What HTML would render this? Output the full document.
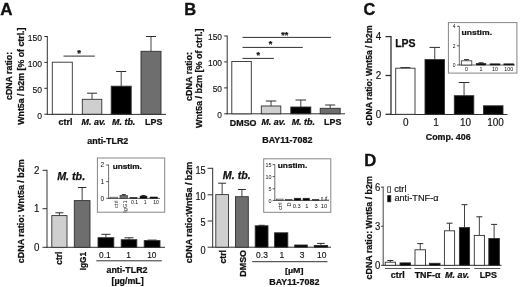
<!DOCTYPE html>
<html lang="en"><head><meta charset="utf-8"><title>Figure</title>
<style>
html,body{margin:0;padding:0;background:#fff;}
body{width:520px;height:287px;overflow:hidden;}
svg{display:block;filter:blur(0.3px);font-family:"Liberation Sans",Arial,Helvetica,sans-serif;}
</style></head><body>
<svg width="520" height="287" viewBox="0 0 520 287">
<rect x="0" y="0" width="520" height="287" fill="#fff"/>
<text text-anchor="start" style="font-size:17px;font-weight:bold;" fill="#111" transform="translate(0.3 15.3)" stroke="#111" stroke-width="0.35">A</text>
<text text-anchor="start" style="font-size:8.8px;font-weight:bold;" fill="#111" transform="translate(11.5 100) rotate(-90) scale(1.0 1.1)" stroke="#111" stroke-width="0.25">cDNA ratio:</text>
<text text-anchor="start" style="font-size:8.8px;font-weight:bold;" fill="#111" transform="translate(23.9 124.8) rotate(-90) scale(1.0 1.1)" stroke="#111" stroke-width="0.25">Wnt5a / b2m [% of ctrl.]</text>
<line x1="47.3" y1="36.0" x2="47.3" y2="114.7" stroke="#303030" stroke-width="1.0"/>
<line x1="44.3" y1="36.5" x2="47.3" y2="36.5" stroke="#303030" stroke-width="1.0"/>
<text text-anchor="end" style="font-size:9.5px;" fill="#111" transform="translate(42.099999999999994 41.02) scale(0.9 1.0)" stroke="#111" stroke-width="0.15">150</text>
<line x1="44.3" y1="62.4" x2="47.3" y2="62.4" stroke="#303030" stroke-width="1.0"/>
<text text-anchor="end" style="font-size:9.5px;" fill="#111" transform="translate(42.099999999999994 66.91999999999999) scale(0.9 1.0)" stroke="#111" stroke-width="0.15">100</text>
<line x1="44.3" y1="88.3" x2="47.3" y2="88.3" stroke="#303030" stroke-width="1.0"/>
<text text-anchor="end" style="font-size:9.5px;" fill="#111" transform="translate(42.099999999999994 92.82) scale(0.9 1.0)" stroke="#111" stroke-width="0.15">50</text>
<line x1="44.3" y1="114.2" x2="47.3" y2="114.2" stroke="#303030" stroke-width="1.0"/>
<text text-anchor="end" style="font-size:9.5px;" fill="#111" transform="translate(42.099999999999994 118.72) scale(0.9 1.0)" stroke="#111" stroke-width="0.15">0</text>
<line x1="46.8" y1="114.4" x2="166" y2="114.4" stroke="#303030" stroke-width="1.0"/>
<rect x="52.3" y="62.2" width="20.0" height="52.0" fill="#ffffff" stroke="#303030" stroke-width="0.9"/>
<line x1="92.05" y1="93.2" x2="92.05" y2="99.3" stroke="#2c2c2c" stroke-width="0.9"/>
<line x1="87.05" y1="93.2" x2="97.05" y2="93.2" stroke="#2c2c2c" stroke-width="1.0"/>
<rect x="82.3" y="99.3" width="19.5" height="14.9" fill="#cfcfcf" stroke="#303030" stroke-width="0.9"/>
<line x1="121.19999999999999" y1="71.5" x2="121.19999999999999" y2="86.2" stroke="#2c2c2c" stroke-width="0.9"/>
<line x1="116.19999999999999" y1="71.5" x2="126.19999999999999" y2="71.5" stroke="#2c2c2c" stroke-width="1.0"/>
<rect x="111.2" y="86.2" width="20.0" height="28.0" fill="#000000" stroke="#303030" stroke-width="0.9"/>
<line x1="151.0" y1="36.5" x2="151.0" y2="51.3" stroke="#2c2c2c" stroke-width="0.9"/>
<line x1="146.0" y1="36.5" x2="156.0" y2="36.5" stroke="#2c2c2c" stroke-width="1.0"/>
<rect x="141" y="51.3" width="20" height="62.9" fill="#6e6e6e" stroke="#303030" stroke-width="0.9"/>
<line x1="63.5" y1="56.1" x2="94.8" y2="56.1" stroke="#303030" stroke-width="1.0"/>
<text text-anchor="middle" style="font-size:9.5px;font-weight:bold;" fill="#111" transform="translate(79.2 55.8)" stroke="#111" stroke-width="0.25">*</text>
<text text-anchor="middle" style="font-size:8.9px;font-weight:bold;" fill="#111" transform="translate(65.5 125.2) scale(1.0 0.92)" stroke="#111" stroke-width="0.25">ctrl</text>
<text text-anchor="middle" style="font-size:8.9px;font-weight:bold;font-style:italic;" fill="#111" transform="translate(93.7 125.2) scale(1.0 0.92)" stroke="#111" stroke-width="0.25">M. av.</text>
<text text-anchor="middle" style="font-size:8.9px;font-weight:bold;font-style:italic;" fill="#111" transform="translate(123.7 125.2) scale(1.0 0.92)" stroke="#111" stroke-width="0.25">M. tb.</text>
<text text-anchor="middle" style="font-size:8.9px;font-weight:bold;" fill="#111" transform="translate(153.7 125.2) scale(1.0 0.92)" stroke="#111" stroke-width="0.25">LPS</text>
<text text-anchor="middle" style="font-size:8.9px;font-weight:bold;" fill="#111" transform="translate(107.8 143.5) scale(1.0 0.92)" stroke="#111" stroke-width="0.25">anti-TLR2</text>
<text text-anchor="start" style="font-size:16.5px;font-weight:bold;" fill="#111" transform="translate(184.3 15.2)" stroke="#111" stroke-width="0.35">B</text>
<text text-anchor="start" style="font-size:9.0px;font-weight:bold;" fill="#111" transform="translate(191.6 101) rotate(-90) scale(1.0 1.02)" stroke="#111" stroke-width="0.25">cDNA ratio:</text>
<text text-anchor="start" style="font-size:9.0px;font-weight:bold;" fill="#111" transform="translate(201.8 128) rotate(-90) scale(1.0 1.02)" stroke="#111" stroke-width="0.25">Wnt5a / b2m [% of ctrl.]</text>
<line x1="227.2" y1="35.5" x2="227.2" y2="114.3" stroke="#303030" stroke-width="1.0"/>
<line x1="224.2" y1="36" x2="227.2" y2="36" stroke="#303030" stroke-width="1.0"/>
<text text-anchor="end" style="font-size:9.5px;" fill="#111" transform="translate(222.0 40.120000000000005) scale(0.88 1.0)" stroke="#111" stroke-width="0.15">150</text>
<line x1="224.2" y1="61.9" x2="227.2" y2="61.9" stroke="#303030" stroke-width="1.0"/>
<text text-anchor="end" style="font-size:9.5px;" fill="#111" transform="translate(222.0 66.01999999999998) scale(0.88 1.0)" stroke="#111" stroke-width="0.15">100</text>
<line x1="224.2" y1="87.9" x2="227.2" y2="87.9" stroke="#303030" stroke-width="1.0"/>
<text text-anchor="end" style="font-size:9.5px;" fill="#111" transform="translate(222.0 92.02) scale(0.88 1.0)" stroke="#111" stroke-width="0.15">50</text>
<line x1="224.2" y1="113.8" x2="227.2" y2="113.8" stroke="#303030" stroke-width="1.0"/>
<text text-anchor="end" style="font-size:9.5px;" fill="#111" transform="translate(222.0 117.91999999999999) scale(0.88 1.0)" stroke="#111" stroke-width="0.15">0</text>
<line x1="226.7" y1="113.8" x2="345" y2="113.8" stroke="#303030" stroke-width="1.0"/>
<rect x="231.8" y="61.5" width="19.5" height="52.3" fill="#ffffff" stroke="#303030" stroke-width="0.9"/>
<line x1="271.05" y1="101" x2="271.05" y2="106" stroke="#2c2c2c" stroke-width="0.9"/>
<line x1="265.8" y1="101" x2="276.3" y2="101" stroke="#2c2c2c" stroke-width="1.0"/>
<rect x="261.3" y="106" width="19.5" height="7.8" fill="#cfcfcf" stroke="#303030" stroke-width="0.9"/>
<line x1="300.8" y1="100" x2="300.8" y2="107" stroke="#2c2c2c" stroke-width="0.9"/>
<line x1="295.55" y1="100" x2="306.05" y2="100" stroke="#2c2c2c" stroke-width="1.0"/>
<rect x="290.8" y="107" width="20.0" height="6.8" fill="#000000" stroke="#303030" stroke-width="0.9"/>
<line x1="330.2" y1="105" x2="330.2" y2="108.3" stroke="#2c2c2c" stroke-width="0.9"/>
<line x1="325.2" y1="105" x2="335.2" y2="105" stroke="#2c2c2c" stroke-width="1.0"/>
<rect x="320.2" y="108.3" width="20.0" height="5.5" fill="#6e6e6e" stroke="#303030" stroke-width="0.9"/>
<line x1="242.5" y1="37.4" x2="331.1" y2="37.4" stroke="#303030" stroke-width="1.0"/>
<line x1="242.5" y1="47.4" x2="302.8" y2="47.4" stroke="#303030" stroke-width="1.0"/>
<line x1="242.5" y1="58.4" x2="273.9" y2="58.4" stroke="#303030" stroke-width="1.0"/>
<text text-anchor="middle" style="font-size:9px;font-weight:bold;" fill="#111" transform="translate(284.7 37.7) scale(1.0 0.92)" stroke="#111" stroke-width="0.25">**</text>
<text text-anchor="middle" style="font-size:9px;font-weight:bold;" fill="#111" transform="translate(270.6 47.2) scale(1.0 0.92)" stroke="#111" stroke-width="0.25">*</text>
<text text-anchor="middle" style="font-size:9px;font-weight:bold;" fill="#111" transform="translate(258.2 57.8) scale(1.0 0.92)" stroke="#111" stroke-width="0.25">*</text>
<text text-anchor="middle" style="font-size:8.9px;font-weight:bold;" fill="#111" transform="translate(243.2 125.6) scale(1.0 0.92)" stroke="#111" stroke-width="0.25">DMSO</text>
<text text-anchor="middle" style="font-size:8.9px;font-weight:bold;font-style:italic;" fill="#111" transform="translate(273.5 125.2) scale(1.0 0.92)" stroke="#111" stroke-width="0.25">M. av.</text>
<text text-anchor="middle" style="font-size:8.9px;font-weight:bold;font-style:italic;" fill="#111" transform="translate(303.3 125.2) scale(1.0 0.92)" stroke="#111" stroke-width="0.25">M. tb.</text>
<text text-anchor="middle" style="font-size:8.9px;font-weight:bold;" fill="#111" transform="translate(332.7 125.2) scale(1.0 0.92)" stroke="#111" stroke-width="0.25">LPS</text>
<text text-anchor="middle" style="font-size:8.9px;font-weight:bold;" fill="#111" transform="translate(287.3 142.8) scale(1.0 0.92)" stroke="#111" stroke-width="0.25">BAY11-7082</text>
<text text-anchor="start" style="font-size:16.3px;font-weight:bold;" fill="#111" transform="translate(363.4 15.2)" stroke="#111" stroke-width="0.35">C</text>
<text text-anchor="start" style="font-size:8.6px;font-weight:bold;" fill="#111" transform="translate(371.6 125.4) rotate(-90) scale(1.0 1.1)" stroke="#111" stroke-width="0.25">cDNA ratio: Wnt5a / b2m</text>
<line x1="391" y1="36.1" x2="391" y2="114.8" stroke="#303030" stroke-width="1.3"/>
<line x1="385.5" y1="36.6" x2="391" y2="36.6" stroke="#303030" stroke-width="1.3"/>
<text text-anchor="end" style="font-size:10.2px;" fill="#111" transform="translate(381.2 40.472) scale(0.97 1.0)" stroke="#111" stroke-width="0.15">4</text>
<line x1="385.5" y1="75.5" x2="391" y2="75.5" stroke="#303030" stroke-width="1.3"/>
<text text-anchor="end" style="font-size:10.2px;" fill="#111" transform="translate(381.2 79.37199999999999) scale(0.97 1.0)" stroke="#111" stroke-width="0.15">2</text>
<line x1="385.5" y1="114.3" x2="391" y2="114.3" stroke="#303030" stroke-width="1.3"/>
<text text-anchor="end" style="font-size:10.2px;" fill="#111" transform="translate(381.2 118.17199999999998) scale(0.97 1.0)" stroke="#111" stroke-width="0.15">0</text>
<line x1="390.4" y1="114.5" x2="507.5" y2="114.5" stroke="#303030" stroke-width="1.0"/>
<text text-anchor="start" style="font-size:10.5px;font-weight:bold;" fill="#111" transform="translate(395.2 47.4)" stroke="#111" stroke-width="0.25">LPS</text>
<line x1="405.35" y1="67.6" x2="405.35" y2="68.2" stroke="#2c2c2c" stroke-width="0.9"/>
<line x1="400.35" y1="67.6" x2="410.35" y2="67.6" stroke="#2c2c2c" stroke-width="1.0"/>
<rect x="395.7" y="68.2" width="19.3" height="46.1" fill="#ffffff" stroke="#303030" stroke-width="0.9"/>
<line x1="434.75" y1="47.4" x2="434.75" y2="59.6" stroke="#2c2c2c" stroke-width="0.9"/>
<line x1="429.5" y1="47.4" x2="440.0" y2="47.4" stroke="#2c2c2c" stroke-width="1.0"/>
<rect x="425" y="59.6" width="19.5" height="54.7" fill="#000000" stroke="#303030" stroke-width="0.9"/>
<line x1="464.05" y1="82.5" x2="464.05" y2="95.7" stroke="#2c2c2c" stroke-width="0.9"/>
<line x1="458.8" y1="82.5" x2="469.3" y2="82.5" stroke="#2c2c2c" stroke-width="1.0"/>
<rect x="454.3" y="95.7" width="19.5" height="18.6" fill="#000000" stroke="#303030" stroke-width="0.9"/>
<rect x="483.5" y="105.8" width="19.5" height="8.5" fill="#000000" stroke="#303030" stroke-width="0.9"/>
<text text-anchor="middle" style="font-size:10.3px;" fill="#111" transform="translate(405.8 125.7) scale(0.97 1.0)" stroke="#111" stroke-width="0.15">0</text>
<text text-anchor="middle" style="font-size:10.3px;" fill="#111" transform="translate(436 125.7) scale(0.97 1.0)" stroke="#111" stroke-width="0.15">1</text>
<text text-anchor="middle" style="font-size:10.3px;" fill="#111" transform="translate(465.5 125.7) scale(0.97 1.0)" stroke="#111" stroke-width="0.15">10</text>
<text text-anchor="middle" style="font-size:10.3px;" fill="#111" transform="translate(495.5 125.7) scale(0.97 1.0)" stroke="#111" stroke-width="0.15">100</text>
<text text-anchor="middle" style="font-size:8.9px;font-weight:bold;" fill="#111" transform="translate(448.2 139.7) scale(1.0 0.92)" stroke="#111" stroke-width="0.25">Comp. 406</text>
<rect x="448.4" y="22.6" width="68.5" height="50.5" fill="#ffffff" stroke="#858585" stroke-width="1.0"/>
<line x1="459.3" y1="26" x2="459.3" y2="65.2" stroke="#4a4a4a" stroke-width="0.8"/>
<line x1="457" y1="26.3" x2="459.3" y2="26.3" stroke="#303030" stroke-width="0.8"/>
<text text-anchor="end" style="font-size:5.4px;" fill="#111" transform="translate(455.6 28.3) scale(0.92 1.0)">4</text>
<line x1="457" y1="45.8" x2="459.3" y2="45.8" stroke="#303030" stroke-width="0.8"/>
<text text-anchor="end" style="font-size:5.4px;" fill="#111" transform="translate(455.6 47.8) scale(0.92 1.0)">2</text>
<line x1="457" y1="65" x2="459.3" y2="65" stroke="#303030" stroke-width="0.8"/>
<text text-anchor="end" style="font-size:5.4px;" fill="#111" transform="translate(455.6 67) scale(0.92 1.0)">0</text>
<line x1="459" y1="65" x2="515" y2="65" stroke="#303030" stroke-width="0.8"/>
<text text-anchor="start" style="font-size:8.6px;font-weight:bold;" fill="#111" transform="translate(461.5 35.1) scale(1.0 0.92)" stroke="#111" stroke-width="0.25">unstim.</text>
<line x1="466.55" y1="59.6" x2="466.55" y2="60.8" stroke="#2c2c2c" stroke-width="0.9"/>
<line x1="464.05" y1="59.6" x2="469.05" y2="59.6" stroke="#2c2c2c" stroke-width="1.0"/>
<rect x="461.3" y="60.8" width="10.5" height="4.2" fill="#ffffff" stroke="#303030" stroke-width="0.8"/>
<line x1="481.05" y1="62.8" x2="481.05" y2="63.3" stroke="#2c2c2c" stroke-width="0.9"/>
<line x1="478.55" y1="62.8" x2="483.55" y2="62.8" stroke="#2c2c2c" stroke-width="1.0"/>
<rect x="476.3" y="63.3" width="9.5" height="1.7" fill="#000000" stroke="#303030" stroke-width="0.6"/>
<rect x="490" y="63.8" width="10" height="1.2" fill="#000000" stroke="#303030" stroke-width="0.6"/>
<rect x="503.8" y="63.8" width="10.0" height="1.2" fill="#000000" stroke="#303030" stroke-width="0.6"/>
<text text-anchor="middle" style="font-size:5.8px;" fill="#111" transform="translate(466.5 71.3) scale(0.92 1.0)">0</text>
<text text-anchor="middle" style="font-size:5.8px;" fill="#111" transform="translate(481 71.3) scale(0.92 1.0)">1</text>
<text text-anchor="middle" style="font-size:5.8px;" fill="#111" transform="translate(495 71.3) scale(0.92 1.0)">10</text>
<text text-anchor="middle" style="font-size:5.8px;" fill="#111" transform="translate(508.8 71.3) scale(0.92 1.0)">100</text>
<text text-anchor="start" style="font-size:8.95px;font-weight:bold;" fill="#111" transform="translate(24.3 263.2) rotate(-90) scale(1.0 1.1)" stroke="#111" stroke-width="0.25">cDNA ratio: Wnt5a / b2m</text>
<line x1="47" y1="169.8" x2="47" y2="247.8" stroke="#303030" stroke-width="1.0"/>
<line x1="42.5" y1="170.3" x2="47" y2="170.3" stroke="#303030" stroke-width="1.0"/>
<text text-anchor="end" style="font-size:10.3px;" fill="#111" transform="translate(39.4 174.008) scale(0.95 1.0)" stroke="#111" stroke-width="0.15">2</text>
<line x1="42.5" y1="208.7" x2="47" y2="208.7" stroke="#303030" stroke-width="1.0"/>
<text text-anchor="end" style="font-size:10.3px;" fill="#111" transform="translate(39.4 212.408) scale(0.95 1.0)" stroke="#111" stroke-width="0.15">1</text>
<line x1="42.5" y1="247.3" x2="47" y2="247.3" stroke="#303030" stroke-width="1.0"/>
<text text-anchor="end" style="font-size:10.3px;" fill="#111" transform="translate(39.4 251.008) scale(0.95 1.0)" stroke="#111" stroke-width="0.15">0</text>
<line x1="46.5" y1="247.3" x2="165" y2="247.3" stroke="#303030" stroke-width="1.0"/>
<text text-anchor="start" style="font-size:10.7px;font-weight:bold;font-style:italic;" fill="#111" transform="translate(57.2 179.8)" stroke="#111" stroke-width="0.25">M. tb.</text>
<line x1="59.4" y1="212.8" x2="59.4" y2="215.6" stroke="#2c2c2c" stroke-width="0.9"/>
<line x1="55.4" y1="212.8" x2="63.4" y2="212.8" stroke="#2c2c2c" stroke-width="1.0"/>
<rect x="51.8" y="215.6" width="15.2" height="31.7" fill="#cfcfcf" stroke="#303030" stroke-width="0.9"/>
<line x1="82.15" y1="187.5" x2="82.15" y2="200.6" stroke="#2c2c2c" stroke-width="0.9"/>
<line x1="77.9" y1="187.5" x2="86.4" y2="187.5" stroke="#2c2c2c" stroke-width="1.0"/>
<rect x="74.3" y="200.6" width="15.7" height="46.7" fill="#6e6e6e" stroke="#303030" stroke-width="0.9"/>
<line x1="105.9" y1="234.3" x2="105.9" y2="237.7" stroke="#2c2c2c" stroke-width="0.9"/>
<line x1="101.4" y1="234.3" x2="110.4" y2="234.3" stroke="#2c2c2c" stroke-width="1.0"/>
<rect x="98" y="237.7" width="15.8" height="9.6" fill="#000000" stroke="#303030" stroke-width="0.9"/>
<line x1="129.0" y1="237.8" x2="129.0" y2="239.7" stroke="#2c2c2c" stroke-width="0.9"/>
<line x1="124.5" y1="237.8" x2="133.5" y2="237.8" stroke="#2c2c2c" stroke-width="1.0"/>
<rect x="121.2" y="239.7" width="15.6" height="7.6" fill="#000000" stroke="#303030" stroke-width="0.9"/>
<line x1="152.1" y1="240.1" x2="152.1" y2="240.6" stroke="#2c2c2c" stroke-width="0.9"/>
<line x1="147.6" y1="240.1" x2="156.6" y2="240.1" stroke="#2c2c2c" stroke-width="1.0"/>
<rect x="144.2" y="240.6" width="15.8" height="6.7" fill="#000000" stroke="#303030" stroke-width="0.9"/>
<text text-anchor="end" style="font-size:8.4px;font-weight:bold;" fill="#111" transform="translate(62 251.6) rotate(-90) scale(1.0 1.1)" stroke="#111" stroke-width="0.25">ctrl</text>
<text text-anchor="end" style="font-size:8.3px;font-weight:bold;" fill="#111" transform="translate(86 251.9) rotate(-90) scale(1.0 1.1)" stroke="#111" stroke-width="0.25">IgG1</text>
<text text-anchor="middle" style="font-size:9.2px;" fill="#111" transform="translate(104.8 257.8) scale(0.91 1.0)" stroke="#111" stroke-width="0.15">0.1</text>
<text text-anchor="middle" style="font-size:9.2px;" fill="#111" transform="translate(128.5 257.8) scale(0.91 1.0)" stroke="#111" stroke-width="0.15">1</text>
<text text-anchor="middle" style="font-size:9.2px;" fill="#111" transform="translate(151.8 257.8) scale(0.91 1.0)" stroke="#111" stroke-width="0.15">10</text>
<line x1="96.3" y1="260.8" x2="161.8" y2="260.8" stroke="#333" stroke-width="1.0"/>
<text text-anchor="middle" style="font-size:8.9px;font-weight:bold;" fill="#111" transform="translate(127 273) scale(1.0 0.92)" stroke="#111" stroke-width="0.25">anti-TLR2</text>
<text text-anchor="middle" style="font-size:8.9px;font-weight:bold;" fill="#111" transform="translate(127.6 284.3) scale(1.0 0.92)" stroke="#111" stroke-width="0.25">[µg/mL]</text>
<rect x="97.4" y="158" width="67.3" height="54.2" fill="#ffffff" stroke="#858585" stroke-width="1.0"/>
<line x1="108.6" y1="164.6" x2="108.6" y2="198.6" stroke="#4a4a4a" stroke-width="0.8"/>
<line x1="106.2" y1="165" x2="108.6" y2="165" stroke="#303030" stroke-width="0.8"/>
<text text-anchor="end" style="font-size:7px;" fill="#111" transform="translate(104.2 167.4) scale(0.95 1.0)">2</text>
<line x1="106.2" y1="181.6" x2="108.6" y2="181.6" stroke="#303030" stroke-width="0.8"/>
<text text-anchor="end" style="font-size:7px;" fill="#111" transform="translate(104.2 184.0) scale(0.95 1.0)">1</text>
<line x1="106.2" y1="198.3" x2="108.6" y2="198.3" stroke="#303030" stroke-width="0.8"/>
<text text-anchor="end" style="font-size:7px;" fill="#111" transform="translate(104.2 200.70000000000002) scale(0.95 1.0)">0</text>
<line x1="108.2" y1="198.4" x2="160" y2="198.4" stroke="#303030" stroke-width="0.8"/>
<text text-anchor="start" style="font-size:8.2px;font-weight:bold;" fill="#111" transform="translate(112.7 169) scale(1.0 0.92)" stroke="#111" stroke-width="0.25">unstim.</text>
<rect x="110" y="197.2" width="7.5" height="1.2" fill="#cfcfcf" stroke="#303030" stroke-width="0.6"/>
<line x1="123.75" y1="194.6" x2="123.75" y2="195.4" stroke="#2c2c2c" stroke-width="0.9"/>
<line x1="121.75" y1="194.6" x2="125.75" y2="194.6" stroke="#2c2c2c" stroke-width="1.0"/>
<rect x="120" y="195.4" width="7.5" height="3.0" fill="#6e6e6e" stroke="#303030" stroke-width="0.6"/>
<rect x="130" y="197.4" width="7" height="1.0" fill="#000000" stroke="#303030" stroke-width="0.6"/>
<line x1="143.5" y1="195.5" x2="143.5" y2="196.1" stroke="#2c2c2c" stroke-width="0.9"/>
<line x1="141.5" y1="195.5" x2="145.5" y2="195.5" stroke="#2c2c2c" stroke-width="1.0"/>
<rect x="140" y="196.1" width="7" height="2.3" fill="#000000" stroke="#303030" stroke-width="0.6"/>
<rect x="150" y="197" width="7.5" height="1.4" fill="#000000" stroke="#303030" stroke-width="0.6"/>
<text text-anchor="end" style="font-size:6.2px;" fill="#333" transform="translate(117.9 200.4) rotate(-90) scale(0.92 1.0)">ctrl</text>
<text text-anchor="end" style="font-size:6.2px;" fill="#333" transform="translate(127.2 200.4) rotate(-90) scale(0.92 1.0)">IgG1</text>
<text text-anchor="middle" style="font-size:5.6px;" fill="#111" transform="translate(134.6 203.8) scale(0.92 1.0)">0.1</text>
<text text-anchor="middle" style="font-size:5.6px;" fill="#111" transform="translate(145.1 203.8) scale(0.92 1.0)">1</text>
<text text-anchor="middle" style="font-size:5.6px;" fill="#111" transform="translate(156 203.8) scale(0.92 1.0)">10</text>
<text text-anchor="start" style="font-size:8.95px;font-weight:bold;" fill="#111" transform="translate(191.9 263.2) rotate(-90) scale(1.0 1.1)" stroke="#111" stroke-width="0.25">cDNA ratio:Wnt5a / b2m</text>
<line x1="212.7" y1="167.8" x2="212.7" y2="247.5" stroke="#303030" stroke-width="1.0"/>
<line x1="207.6" y1="168.3" x2="212.7" y2="168.3" stroke="#303030" stroke-width="1.0"/>
<text text-anchor="end" style="font-size:10px;" fill="#111" transform="translate(205.7 173.9) scale(0.92 1.0)" stroke="#111" stroke-width="0.15">15</text>
<line x1="207.6" y1="194.8" x2="212.7" y2="194.8" stroke="#303030" stroke-width="1.0"/>
<text text-anchor="end" style="font-size:10px;" fill="#111" transform="translate(205.7 200.20000000000002) scale(0.92 1.0)" stroke="#111" stroke-width="0.15">10</text>
<line x1="207.6" y1="221" x2="212.7" y2="221" stroke="#303030" stroke-width="1.0"/>
<text text-anchor="end" style="font-size:10px;" fill="#111" transform="translate(205.7 226.1) scale(0.92 1.0)" stroke="#111" stroke-width="0.15">5</text>
<line x1="207.6" y1="247.2" x2="212.7" y2="247.2" stroke="#303030" stroke-width="1.0"/>
<text text-anchor="end" style="font-size:10px;" fill="#111" transform="translate(205.7 254.29999999999998) scale(0.92 1.0)" stroke="#111" stroke-width="0.15">0</text>
<line x1="212.2" y1="247.2" x2="331" y2="247.2" stroke="#303030" stroke-width="1.0"/>
<text text-anchor="start" style="font-size:10.7px;font-weight:bold;font-style:italic;" fill="#111" transform="translate(222.8 178.8)" stroke="#111" stroke-width="0.25">M. tb.</text>
<line x1="222.15" y1="183.2" x2="222.15" y2="194.6" stroke="#2c2c2c" stroke-width="0.9"/>
<line x1="218.15" y1="183.2" x2="226.15" y2="183.2" stroke="#2c2c2c" stroke-width="1.0"/>
<rect x="215.8" y="194.6" width="12.7" height="52.6" fill="#cfcfcf" stroke="#303030" stroke-width="0.9"/>
<line x1="241.9" y1="189.5" x2="241.9" y2="196.7" stroke="#2c2c2c" stroke-width="0.9"/>
<line x1="237.9" y1="189.5" x2="245.9" y2="189.5" stroke="#2c2c2c" stroke-width="1.0"/>
<rect x="235.5" y="196.7" width="12.8" height="50.5" fill="#6e6e6e" stroke="#303030" stroke-width="0.9"/>
<line x1="261.6" y1="225.3" x2="261.6" y2="225.8" stroke="#2c2c2c" stroke-width="0.9"/>
<line x1="258.6" y1="225.3" x2="264.6" y2="225.3" stroke="#2c2c2c" stroke-width="1.0"/>
<rect x="255.2" y="225.8" width="12.8" height="21.4" fill="#000000" stroke="#303030" stroke-width="0.9"/>
<rect x="274.6" y="232.8" width="13.2" height="14.4" fill="#000000" stroke="#303030" stroke-width="0.9"/>
<rect x="294.7" y="245" width="12.6" height="2.2" fill="#000000" stroke="#303030" stroke-width="0.9"/>
<line x1="320.95000000000005" y1="243.4" x2="320.95000000000005" y2="245.5" stroke="#2c2c2c" stroke-width="0.9"/>
<line x1="317.20000000000005" y1="243.4" x2="324.70000000000005" y2="243.4" stroke="#2c2c2c" stroke-width="1.0"/>
<rect x="314.3" y="245.5" width="13.3" height="1.7" fill="#000000" stroke="#303030" stroke-width="0.9"/>
<text text-anchor="end" style="font-size:8.7px;font-weight:bold;" fill="#111" transform="translate(226.3 250) rotate(-90) scale(1.0 1.1)" stroke="#111" stroke-width="0.25">ctrl</text>
<text text-anchor="end" style="font-size:8.9px;font-weight:bold;" fill="#111" transform="translate(245.6 250) rotate(-90) scale(1.0 1.1)" stroke="#111" stroke-width="0.25">DMSO</text>
<text text-anchor="middle" style="font-size:9.2px;" fill="#111" transform="translate(262 257.9) scale(0.92 1.0)" stroke="#111" stroke-width="0.15">0.3</text>
<text text-anchor="middle" style="font-size:9.2px;" fill="#111" transform="translate(281.8 257.9) scale(0.92 1.0)" stroke="#111" stroke-width="0.15">1</text>
<text text-anchor="middle" style="font-size:9.2px;" fill="#111" transform="translate(302 257.9) scale(0.92 1.0)" stroke="#111" stroke-width="0.15">3</text>
<text text-anchor="middle" style="font-size:9.2px;" fill="#111" transform="translate(321.8 257.9) scale(0.92 1.0)" stroke="#111" stroke-width="0.15">10</text>
<line x1="252.2" y1="261.7" x2="327.5" y2="261.7" stroke="#333" stroke-width="1.0"/>
<text text-anchor="middle" style="font-size:8.9px;font-weight:bold;" fill="#111" transform="translate(294.2 272.8) scale(1.0 0.88)" stroke="#111" stroke-width="0.25">[µM]</text>
<text text-anchor="middle" style="font-size:8.9px;font-weight:bold;" fill="#111" transform="translate(294.3 284.6) scale(1.0 0.92)" stroke="#111" stroke-width="0.25">BAY11-7082</text>
<rect x="263.7" y="158.8" width="67.1" height="53.5" fill="#ffffff" stroke="#858585" stroke-width="1.0"/>
<line x1="274.8" y1="164.4" x2="274.8" y2="200.8" stroke="#4a4a4a" stroke-width="0.8"/>
<line x1="272.6" y1="164.6" x2="274.8" y2="164.6" stroke="#303030" stroke-width="0.8"/>
<text text-anchor="end" style="font-size:6px;" fill="#111" transform="translate(271.6 166.7) scale(0.9 1.0)">15</text>
<line x1="272.6" y1="176.6" x2="274.8" y2="176.6" stroke="#303030" stroke-width="0.8"/>
<text text-anchor="end" style="font-size:6px;" fill="#111" transform="translate(271.6 178.7) scale(0.9 1.0)">10</text>
<line x1="272.6" y1="188.8" x2="274.8" y2="188.8" stroke="#303030" stroke-width="0.8"/>
<text text-anchor="end" style="font-size:6px;" fill="#111" transform="translate(271.6 190.9) scale(0.9 1.0)">5</text>
<line x1="272.6" y1="200.4" x2="274.8" y2="200.4" stroke="#303030" stroke-width="0.8"/>
<text text-anchor="end" style="font-size:6px;" fill="#111" transform="translate(271.6 202.5) scale(0.9 1.0)">0</text>
<line x1="274.4" y1="200.4" x2="329" y2="200.4" stroke="#303030" stroke-width="0.8"/>
<text text-anchor="start" style="font-size:8.3px;font-weight:bold;" fill="#111" transform="translate(277.8 168.3) scale(1.0 0.92)" stroke="#111" stroke-width="0.25">unstim.</text>
<rect x="276.3" y="199.1" width="6.7" height="1.3" fill="#cfcfcf" stroke="#303030" stroke-width="0.6"/>
<rect x="285.5" y="199.4" width="6.5" height="1.0" fill="#6e6e6e" stroke="#303030" stroke-width="0.6"/>
<rect x="294.2" y="198.2" width="6.6" height="2.2" fill="#000000" stroke="#303030" stroke-width="0.6"/>
<rect x="303" y="198.2" width="6.5" height="2.2" fill="#000000" stroke="#303030" stroke-width="0.6"/>
<rect x="312.5" y="199.5" width="6.3" height="0.9" fill="#000000" stroke="#303030" stroke-width="0.6"/>
<text text-anchor="middle" style="font-size:5.2px;" fill="#111" transform="translate(324.8 199.8) scale(0.92 1.0)">n.d.</text>
<text text-anchor="end" style="font-size:6px;" fill="#111" transform="translate(282 202.4) rotate(-90) scale(0.92 1.0)">ctrl</text>
<text text-anchor="end" style="font-size:6px;" fill="#111" transform="translate(291.3 202.6) rotate(-90) scale(0.92 1.0)">D</text>
<text text-anchor="middle" style="font-size:6.2px;" fill="#111" transform="translate(296.8 208) scale(0.92 1.0)">0.3</text>
<text text-anchor="middle" style="font-size:6.2px;" fill="#111" transform="translate(306.8 208) scale(0.92 1.0)">1</text>
<text text-anchor="middle" style="font-size:6.2px;" fill="#111" transform="translate(316 208) scale(0.92 1.0)">3</text>
<text text-anchor="middle" style="font-size:6.2px;" fill="#111" transform="translate(324 208) scale(0.92 1.0)">10</text>
<text text-anchor="start" style="font-size:16.7px;font-weight:bold;" fill="#111" transform="translate(364.2 166.4)" stroke="#111" stroke-width="0.35">D</text>
<text text-anchor="start" style="font-size:8.88px;font-weight:bold;" fill="#111" transform="translate(371.7 279.4) rotate(-90) scale(1.0 1.1)" stroke="#111" stroke-width="0.25">cDNA ratio: Wnt5a / b2m</text>
<line x1="383.2" y1="186.5" x2="383.2" y2="265.8" stroke="#303030" stroke-width="0.9"/>
<line x1="381.0" y1="187.2" x2="383.2" y2="187.2" stroke="#303030" stroke-width="0.9"/>
<text text-anchor="end" style="font-size:10px;" fill="#111" transform="translate(380.3 191.29999999999998) scale(0.95 1.0)" stroke="#111" stroke-width="0.15">6</text>
<line x1="381.0" y1="226.2" x2="383.2" y2="226.2" stroke="#303030" stroke-width="0.9"/>
<text text-anchor="end" style="font-size:10px;" fill="#111" transform="translate(380.3 230.29999999999998) scale(0.95 1.0)" stroke="#111" stroke-width="0.15">3</text>
<line x1="381.0" y1="265.3" x2="383.2" y2="265.3" stroke="#303030" stroke-width="0.9"/>
<text text-anchor="end" style="font-size:10px;" fill="#111" transform="translate(380.3 269.40000000000003) scale(0.95 1.0)" stroke="#111" stroke-width="0.15">0</text>
<line x1="382.9" y1="265.3" x2="501.5" y2="265.3" stroke="#303030" stroke-width="1.0"/>
<rect x="387.7" y="186.8" width="2.9" height="5.5" fill="#ffffff" stroke="#303030" stroke-width="0.8"/>
<rect x="387.7" y="195.6" width="3.1" height="6.2" fill="#000000" stroke="#303030" stroke-width="0.8"/>
<text text-anchor="start" style="font-size:9.2px;" fill="#111" transform="translate(394.2 192.4)" stroke="#111" stroke-width="0.15">ctrl</text>
<text text-anchor="start" style="font-size:9.2px;" fill="#111" transform="translate(394.4 201.2)" stroke="#111" stroke-width="0.15">anti-TNF-α</text>
<line x1="390.35" y1="260.5" x2="390.35" y2="262.2" stroke="#2c2c2c" stroke-width="0.9"/>
<line x1="387.35" y1="260.5" x2="393.35" y2="260.5" stroke="#2c2c2c" stroke-width="1.0"/>
<rect x="385.2" y="262.2" width="10.3" height="3.1" fill="#ffffff" stroke="#303030" stroke-width="0.9"/>
<rect x="400" y="262.9" width="10.5" height="2.4" fill="#000000" stroke="#303030" stroke-width="0.9"/>
<line x1="420.25" y1="243.6" x2="420.25" y2="249.8" stroke="#2c2c2c" stroke-width="0.9"/>
<line x1="417.25" y1="243.6" x2="423.25" y2="243.6" stroke="#2c2c2c" stroke-width="1.0"/>
<rect x="415" y="249.8" width="10.5" height="15.5" fill="#ffffff" stroke="#303030" stroke-width="0.9"/>
<rect x="429.5" y="263.3" width="10.5" height="2.0" fill="#000000" stroke="#303030" stroke-width="0.9"/>
<line x1="449.5" y1="223.2" x2="449.5" y2="230.8" stroke="#2c2c2c" stroke-width="0.9"/>
<line x1="446.5" y1="223.2" x2="452.5" y2="223.2" stroke="#2c2c2c" stroke-width="1.0"/>
<rect x="444.4" y="230.8" width="10.2" height="34.5" fill="#ffffff" stroke="#303030" stroke-width="0.9"/>
<line x1="464.5" y1="204.7" x2="464.5" y2="227.6" stroke="#2c2c2c" stroke-width="0.9"/>
<line x1="461.5" y1="204.7" x2="467.5" y2="204.7" stroke="#2c2c2c" stroke-width="1.0"/>
<rect x="459.4" y="227.6" width="10.2" height="37.7" fill="#000000" stroke="#303030" stroke-width="0.9"/>
<line x1="479.35" y1="216.8" x2="479.35" y2="235.4" stroke="#2c2c2c" stroke-width="0.9"/>
<line x1="476.35" y1="216.8" x2="482.35" y2="216.8" stroke="#2c2c2c" stroke-width="1.0"/>
<rect x="474.3" y="235.4" width="10.1" height="29.9" fill="#ffffff" stroke="#303030" stroke-width="0.9"/>
<line x1="494.1" y1="224.4" x2="494.1" y2="238.5" stroke="#2c2c2c" stroke-width="0.9"/>
<line x1="491.1" y1="224.4" x2="497.1" y2="224.4" stroke="#2c2c2c" stroke-width="1.0"/>
<rect x="488.8" y="238.5" width="10.6" height="26.8" fill="#000000" stroke="#303030" stroke-width="0.9"/>
<line x1="385" y1="268.5" x2="411.3" y2="268.5" stroke="#444" stroke-width="0.9"/>
<line x1="414.5" y1="268.5" x2="440.5" y2="268.5" stroke="#444" stroke-width="0.9"/>
<line x1="443.8" y1="268.5" x2="470" y2="268.5" stroke="#444" stroke-width="0.9"/>
<line x1="474.3" y1="268.5" x2="500.3" y2="268.5" stroke="#444" stroke-width="0.9"/>
<text text-anchor="middle" style="font-size:8.9px;font-weight:bold;" fill="#111" transform="translate(397.8 278.2) scale(1.0 0.92)" stroke="#111" stroke-width="0.25">ctrl</text>
<text text-anchor="middle" style="font-size:8.9px;font-weight:bold;" fill="#111" transform="translate(427.5 278.2) scale(1.0 0.92)" stroke="#111" stroke-width="0.25">TNF-α</text>
<text text-anchor="middle" style="font-size:8.9px;font-weight:bold;font-style:italic;" fill="#111" transform="translate(457.2 278.2) scale(1.0 0.92)" stroke="#111" stroke-width="0.25">M. av.</text>
<text text-anchor="middle" style="font-size:8.9px;font-weight:bold;" fill="#111" transform="translate(488.3 278.2) scale(1.0 0.92)" stroke="#111" stroke-width="0.25">LPS</text>
</svg>
</body></html>
